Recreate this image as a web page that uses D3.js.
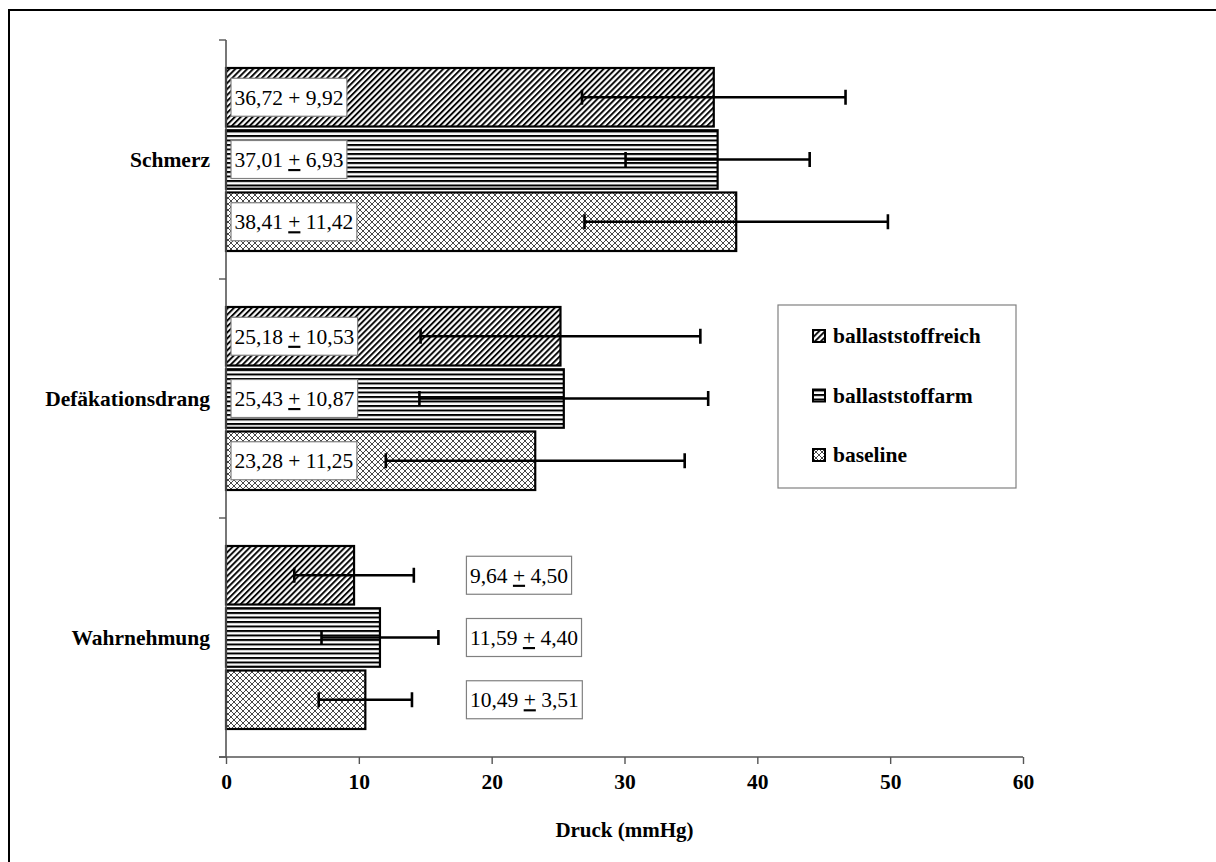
<!DOCTYPE html>
<html>
<head>
<meta charset="utf-8">
<script src="https://cdn.jsdelivr.net/npm/d3@7"></script>
<style>
  body { margin: 0; background: #fff; }
  svg { display: block; font-family: "Liberation Serif", "Times New Roman", serif; }
</style>
</head>
<body>
<svg id="chart"></svg>
<script>
const categories = ['Schmerz', 'Defäkationsdrang', 'Wahrnehmung'];
const series = ['ballaststoffreich', 'ballaststoffarm', 'baseline'];
// means and standard deviations per category, in series order
const means = [
    [36.72, 37.01, 38.41],
    [25.18, 25.43, 23.28],
    [9.64, 11.59, 10.49],
];
const sds = [
    [9.92, 6.93, 11.42],
    [10.53, 10.87, 11.25],
    [4.50, 4.40, 3.51],
];
// whether the "+" in the label is underlined (printed as ±)
const plusUnderlined = [
    [false, true, true],
    [true, true, false],
    [true, true, true],
];
const xTicks = [0, 10, 20, 30, 40, 50, 60];

const WIDTH = 1216;
const HEIGHT = 862;
const PLOT_LEFT = 226;
const PLOT_RIGHT = 1023;
const PLOT_TOP = 40;
const PLOT_BOTTOM = 757;
const BOLD_SIZE = 21.5;

const svg = d3.select('#chart')
    .attr('width', WIDTH)
    .attr('height', HEIGHT);

const fmt = v => v.toFixed(2).replace('.', ',');

// patterns
const defs = svg.append('defs');

const diag = defs.append('pattern')
    .attr('id', 'pat-reich')
    .attr('patternUnits', 'userSpaceOnUse')
    .attr('width', 4.2)
    .attr('height', 4.2)
    .attr('patternTransform', 'rotate(45)');
diag.append('rect').attr('width', 4.2).attr('height', 4.2).attr('fill', '#fff');
diag.append('line')
    .attr('x1', 1).attr('y1', 0).attr('x2', 1).attr('y2', 4.2)
    .attr('stroke', '#000').attr('stroke-width', 1.9);

const horiz = defs.append('pattern')
    .attr('id', 'pat-arm')
    .attr('patternUnits', 'userSpaceOnUse')
    .attr('width', 8)
    .attr('height', 4.5);
horiz.append('rect').attr('width', 8).attr('height', 4.5).attr('fill', '#fff');
horiz.append('rect').attr('y', 0).attr('width', 8).attr('height', 2).attr('fill', '#000');

const cross = defs.append('pattern')
    .attr('id', 'pat-base')
    .attr('patternUnits', 'userSpaceOnUse')
    .attr('width', 6)
    .attr('height', 6);
cross.append('rect').attr('width', 6).attr('height', 6).attr('fill', '#fff');
cross.append('path')
    .attr('d', 'M0,0L6,6M6,0L0,6')
    .attr('stroke', '#333').attr('stroke-width', 0.9).attr('fill', 'none');

const fills = ['url(#pat-reich)', 'url(#pat-arm)', 'url(#pat-base)'];

// outer frame
svg.append('rect')
    .attr('x', 9).attr('y', 10)
    .attr('width', 1300).attr('height', 1000)
    .attr('fill', 'none')
    .attr('stroke', '#000')
    .attr('stroke-width', 2);

const x = d3.scaleLinear().domain([0, 60]).range([PLOT_LEFT, PLOT_RIGHT]);
const y0 = d3.scaleBand().domain(categories).range([PLOT_TOP, PLOT_BOTTOM]);
const y1 = d3.scaleBand().domain(series).range([28, y0.bandwidth() - 28]).paddingInner(0.06);

// bars
const rows = [];
categories.forEach((c, ci) => {
    series.forEach((s, si) => {
        rows.push({ c, ci, s, si, mean: means[ci][si], sd: sds[ci][si], ul: plusUnderlined[ci][si] });
    });
});

const g = svg.append('g');

g.selectAll('.bar')
    .data(rows)
    .join('rect')
    .attr('class', 'bar')
    .attr('x', x(0))
    .attr('y', d => y0(d.c) + y1(d.s))
    .attr('width', d => x(d.mean) - x(0))
    .attr('height', y1.bandwidth())
    .attr('fill', d => fills[d.si])
    .attr('stroke', '#000')
    .attr('stroke-width', 2.2);

// value labels
const labels = g.selectAll('.lbl')
    .data(rows)
    .join('g')
    .attr('class', 'lbl');

labels.each(function(d) {
    const sel = d3.select(this);
    const cy = y0(d.c) + y1(d.s) + y1.bandwidth() / 2;
    const inside = d.mean > 20;
    const lx = inside ? x(0) + 5 : x(18.1);
    const rect = sel.append('rect')
        .attr('fill', '#fff')
        .attr('stroke', '#808080')
        .attr('stroke-width', 1.2);
    const t = sel.append('text')
        .attr('x', lx + 3.5)
        .attr('y', cy + 7.5)
        .attr('font-size', 21.5)
        .attr('fill', '#000');
    t.append('tspan').text(fmt(d.mean) + ' ');
    t.append('tspan').text('+').attr('text-decoration', d.ul ? 'underline' : null);
    t.append('tspan').text(' ' + fmt(d.sd));
    const w = t.node().getComputedTextLength();
    rect.attr('x', lx)
        .attr('y', cy - 19)
        .attr('width', w + 7)
        .attr('height', 38);
});

// error bars
const err = g.selectAll('.err')
    .data(rows)
    .join('g')
    .attr('class', 'err')
    .attr('stroke', '#000')
    .attr('stroke-width', 2.6);

err.append('line')
    .attr('x1', d => x(d.mean - d.sd))
    .attr('x2', d => x(d.mean + d.sd))
    .attr('y1', d => y0(d.c) + y1(d.s) + y1.bandwidth() / 2)
    .attr('y2', d => y0(d.c) + y1(d.s) + y1.bandwidth() / 2);

err.selectAll('.cap')
    .data(d => [d.mean - d.sd, d.mean + d.sd].map(v => ({ v, cy: y0(d.c) + y1(d.s) + y1.bandwidth() / 2 })))
    .join('line')
    .attr('class', 'cap')
    .attr('x1', d => x(d.v))
    .attr('x2', d => x(d.v))
    .attr('y1', d => d.cy - 7.5)
    .attr('y2', d => d.cy + 7.5);

// axes
const axisColor = '#555';

const xAxis = svg.append('g')
    .attr('transform', `translate(0,${PLOT_BOTTOM})`)
    .call(d3.axisBottom(x).tickValues(xTicks).tickSize(7).tickFormat(d3.format('d')));
xAxis.select('.domain').attr('stroke', axisColor).attr('stroke-width', 1.6).attr('d', `M${PLOT_LEFT - 7},0H${PLOT_RIGHT}`);
xAxis.selectAll('.tick line').attr('stroke', axisColor).attr('stroke-width', 1.4);
xAxis.selectAll('.tick text')
    .attr('y', 32)
    .attr('dy', null)
    .attr('font-family', '"Liberation Serif", "Times New Roman", serif')
    .attr('font-size', BOLD_SIZE)
    .attr('font-weight', 'bold')
    .attr('fill', '#000');

const yAxis = svg.append('g');
yAxis.append('line')
    .attr('x1', PLOT_LEFT).attr('x2', PLOT_LEFT)
    .attr('y1', PLOT_TOP).attr('y2', PLOT_BOTTOM)
    .attr('stroke', axisColor).attr('stroke-width', 1.6);
yAxis.selectAll('.ytick')
    .data(categories.map(c => y0(c)).concat([PLOT_BOTTOM]))
    .join('line')
    .attr('class', 'ytick')
    .attr('x1', PLOT_LEFT - 7).attr('x2', PLOT_LEFT)
    .attr('y1', d => d).attr('y2', d => d)
    .attr('stroke', axisColor).attr('stroke-width', 1.4);
yAxis.selectAll('.ylabel')
    .data(categories)
    .join('text')
    .attr('class', 'ylabel')
    .attr('x', 210)
    .attr('y', d => y0(d) + y0.bandwidth() / 2 + 7)
    .attr('text-anchor', 'end')
    .attr('font-size', BOLD_SIZE)
    .attr('font-weight', 'bold')
    .text(d => d);

svg.append('text')
    .attr('x', (PLOT_LEFT + PLOT_RIGHT) / 2)
    .attr('y', 837)
    .attr('text-anchor', 'middle')
    .attr('font-size', 21)
    .attr('font-weight', 'bold')
    .text('Druck (mmHg)');

// legend
const legend = svg.append('g').attr('transform', 'translate(778,305)');
legend.append('rect')
    .attr('width', 238).attr('height', 183)
    .attr('fill', '#fff')
    .attr('stroke', '#808080')
    .attr('stroke-width', 1.2);

const items = legend.selectAll('.item')
    .data(series)
    .join('g')
    .attr('class', 'item')
    .attr('transform', (d, i) => `translate(35,${25 + i * 59.5})`);
items.append('rect')
    .attr('width', 12).attr('height', 12)
    .attr('fill', (d, i) => fills[i])
    .attr('stroke', '#000')
    .attr('stroke-width', 2);
items.append('text')
    .attr('x', 20)
    .attr('y', 13)
    .attr('font-size', BOLD_SIZE)
    .attr('font-weight', 'bold')
    .text(d => d);
</script>
</body>
</html>
